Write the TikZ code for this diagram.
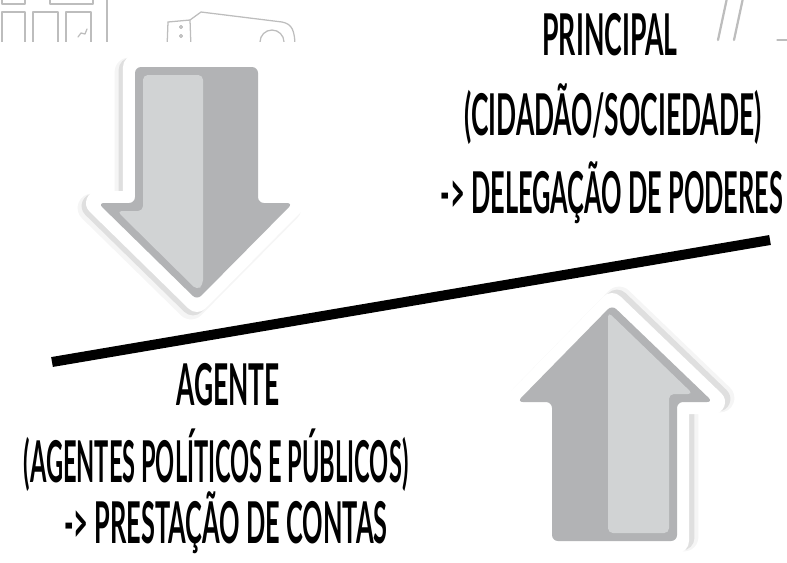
\documentclass[tikz,border=0pt]{standalone}
\usepackage{fontspec}
\newfontfamily\handfont[FakeStretch=0.44]{Lato}
\usepackage{tikz}

\definecolor{arrowrim}{HTML}{B2B3B5}
\definecolor{arrowface}{HTML}{D1D3D4}
\definecolor{doodleline}{HTML}{BDBDBD}

% arrow outlines, in pixel units
\newcommand\dnarrowpath{(135,67) -- (258,67) -- (258,203) -- (293,203) -- (197,300) -- (98,203) -- (135,203) -- cycle}
\newcommand\uparrowpath{(612,305) -- (713,402) -- (677,402) -- (677,541) -- (552,541) -- (552,402) -- (517,402) -- cycle}

\begin{document}
\begin{tikzpicture}[
  x=0.025cm, y=-0.025cm,
  lbl/.style={font=\handfont\bfseries\fontsize{41}{44}\selectfont, anchor=base, inner sep=0pt},
  rim/.style={fill=arrowrim, rounded corners=1.5mm},
  face/.style={fill=arrowface, rounded corners=1.2mm},
  sticker/.style={draw=white, fill=white, line width=0.6cm, line join=round},
  shade/.style={draw=black, fill=black, line join=round},
  doodle/.style={draw=doodleline, line width=0.9pt, line cap=round, line join=round},
  bar/.style={draw=black, line width=0.25cm},
]
  \useasboundingbox (0,0) rectangle (787,562);

  % background sketches, cut at the top
  \begin{scope}
    \clip (0,0) rectangle (787,41);
    \draw[doodle] (2,-6) rectangle (25,4);
    \draw[doodle] (50,-6) rectangle (93,4);
    \draw[doodle] (2,12) rectangle (25,48);
    \draw[doodle] (33,12) rectangle (58,48);
    \draw[doodle] (66,12) rectangle (91,48);
    \draw[doodle] (78,37) -- (81,33) -- (85,34) -- (87,29);
    \draw[doodle] (107,-2) -- (107,48);
    \draw[doodle] (168,22) -- (190,20) -- (191,48);
    \draw[doodle] (168,22) -- (167,48);
    \draw[doodle] (181,27) circle (1.5);
    \draw[doodle] (181,36) circle (1.5);
    \draw[doodle] (190,20) -- (201,12) -- (282,22) .. controls (292,24) and (295,30) .. (295,48);
    \draw[doodle] (272,42) circle (12);
    \draw[doodle, line width=1.6pt] (727,-2) -- (718,40);
    \draw[doodle, line width=1.6pt] (743,-2) -- (734,40);
    \draw[doodle] (777,40) -- (790,40);
  \end{scope}

  % down arrow
  \path[shade, opacity=0.04, line width=0.72cm, shift={(-6,5)}] \dnarrowpath;
  \path[shade, opacity=0.09, line width=0.62cm, shift={(-4,3)}] \dnarrowpath;
  \path[sticker] \dnarrowpath;
  \path[rim] \dnarrowpath;
  \path[face] (143,75) -- (203,75) -- (203,285) -- (197,290) -- (117,211) -- (143,211) -- cycle;

  % up arrow
  \path[shade, opacity=0.04, line width=0.72cm, shift={(7,-4)}] \uparrowpath;
  \path[shade, opacity=0.09, line width=0.62cm, shift={(5,-3)}] \uparrowpath;
  \path[sticker] \uparrowpath;
  \path[rim] \uparrowpath;
  \path[face] (608,312) -- (693,394) -- (669,394) -- (669,533) -- (608,533) -- cycle;

  % balance bar
  \coordinate (barl) at (52,362);
  \coordinate (barr) at (770,240);
  \draw[bar] (barl) -- (barr);

  \node[lbl] (principal) at (610,55) {\scalebox{1.05}[1]{PRINCIPAL}};
  \node[lbl] (cidadao) at (613,135) {\scalebox{1.04}[1]{(CIDADÃO/SOCIEDADE)}};
  \node[lbl] (delegacao) at (612,213) {-> DELEGAÇÃO DE PODERES};
  \node[lbl] (agente) at (228,405) {\scalebox{1.04}[1]{AGENTE}};
  \node[lbl] (agentes) at (216,482) {\scalebox{0.93}[1]{(AGENTES POLÍTICOS E PÚBLICOS)}};
  \node[lbl] (prestacao) at (226,543) {-> PRESTAÇÃO DE CONTAS};
\end{tikzpicture}
\end{document}
